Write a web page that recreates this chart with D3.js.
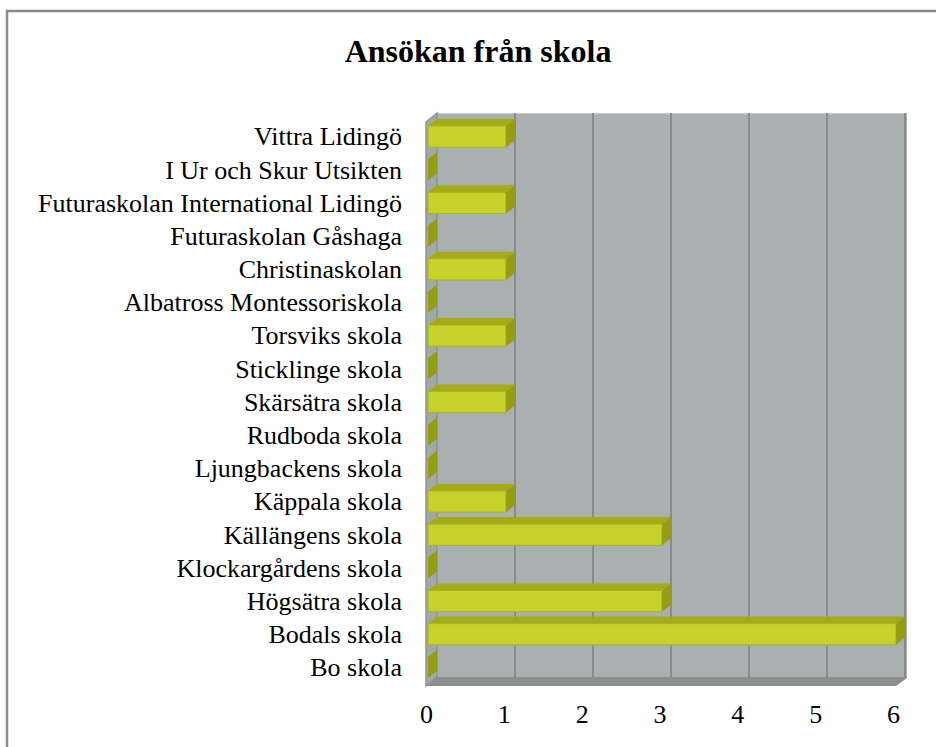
<!DOCTYPE html>
<html>
<head>
<meta charset="utf-8">
<script src="https://cdn.jsdelivr.net/npm/d3@7"></script>
<style>
  html, body { margin: 0; padding: 0; background: #fff; }
  svg { display: block; }
  text { font-family: "Liberation Serif", "Times New Roman", serif; fill: #000; }
</style>
</head>
<body>
<svg id="chart" width="936" height="747"></svg>
<script>
const schools = [
    "Vittra Lidingö",
    "I Ur och Skur Utsikten",
    "Futuraskolan International Lidingö",
    "Futuraskolan Gåshaga",
    "Christinaskolan",
    "Albatross Montessoriskola",
    "Torsviks skola",
    "Sticklinge skola",
    "Skärsätra skola",
    "Rudboda skola",
    "Ljungbackens skola",
    "Käppala skola",
    "Källängens skola",
    "Klockargårdens skola",
    "Högsätra skola",
    "Bodals skola",
    "Bo skola"
];
const applications = [1, 0, 1, 0, 1, 0, 1, 0, 1, 0, 0, 1, 3, 0, 3, 6, 0];
const xTicks = [0, 1, 2, 3, 4, 5, 6];

const svg = d3.select("#chart");

// outer frame (only left and top edges fall inside the picture)
svg.append("rect")
    .attr("x", 7).attr("y", 11)
    .attr("width", 1200).attr("height", 1200)
    .attr("fill", "none")
    .attr("stroke", "#8a8a8a")
    .attr("stroke-width", 2.5);

svg.append("text")
    .attr("x", 478).attr("y", 62)
    .attr("text-anchor", "middle")
    .attr("font-size", 32)
    .attr("font-weight", "bold")
    .text("Ansökan från skola");

// wall depth (front -> back) and bar depth
const wallDx = 11, wallDy = -9;
const barDx = 9, barDy = -7;

// scales on the back wall plane
const x = d3.scaleLinear().domain([0, 6]).range([437, 905]);
const y = d3.scaleBand().domain(schools).range([113, 677]).paddingInner(0.36).paddingOuter(0.18);

const wallTop = 113, wallBottom = 677;
const x0 = x(0), x6 = x(6);

// back wall
svg.append("rect")
    .attr("x", x0).attr("y", wallTop)
    .attr("width", x6 - x0 + 2).attr("height", wallBottom - wallTop)
    .attr("fill", "#aab0b0");

svg.append("line")
    .attr("x1", x0).attr("x2", x6 + 2)
    .attr("y1", wallTop + 0.5).attr("y2", wallTop + 0.5)
    .attr("stroke", "#c9cdcd");

// left side wall
svg.append("polygon")
    .attr("points", [
        [x0, wallTop], [x0 - wallDx, wallTop - wallDy],
        [x0 - wallDx, wallBottom - wallDy], [x0, wallBottom]
    ].join(" "))
    .attr("fill", "#a2a8a8")
    .attr("stroke", "#8f9494")
    .attr("stroke-width", 1.5);

// floor
svg.append("polygon")
    .attr("points", [
        [x0, wallBottom], [x6 + 2, wallBottom],
        [x6 + 2, wallBottom + 1], [x6 + 2 - wallDx, wallBottom - wallDy],
        [x0 - wallDx, wallBottom - wallDy]
    ].join(" "))
    .attr("fill", "#898e8e");

// gridlines on the back wall
svg.append("g")
    .selectAll("line")
    .data(xTicks.slice(1))
    .join("line")
    .attr("x1", d => x(d)).attr("x2", d => x(d))
    .attr("y1", wallTop).attr("y2", wallBottom)
    .attr("stroke", "#868b8b")
    .attr("stroke-width", 2);

// bars
const bars = svg.append("g")
    .selectAll("g")
    .data(schools.map((s, i) => ({ name: s, value: applications[i] })))
    .join("g");

const fx = v => x(v) - barDx;          // front-face x
const fy = d => y(d.name) - barDy;     // front-face top y
const bh = y.bandwidth();

bars.filter(d => d.value > 0).append("polygon")
    .attr("points", d => [
        [fx(0), fy(d)], [x(0), y(d.name)],
        [x(d.value), y(d.name)], [fx(d.value), fy(d)]
    ].join(" "))
    .attr("fill", "#a4ab18");

bars.filter(d => d.value > 0).append("rect")
    .attr("x", fx(0))
    .attr("y", d => fy(d))
    .attr("width", d => fx(d.value) - fx(0))
    .attr("height", bh)
    .attr("fill", "#c6d12a")
    .attr("stroke", "#aab222")
    .attr("stroke-width", 1);

bars.append("polygon")
    .attr("points", d => [
        [fx(d.value), fy(d)], [x(d.value), y(d.name)],
        [x(d.value), y(d.name) + bh], [fx(d.value), fy(d) + bh]
    ].join(" "))
    .attr("fill", "#959d12");

// category labels
svg.append("g")
    .selectAll("text")
    .data(schools)
    .join("text")
    .attr("x", 402)
    .attr("y", d => y(d) - barDy + bh / 2)
    .attr("dy", "0.34em")
    .attr("text-anchor", "end")
    .attr("font-size", 26)
    .text(d => d);

// value axis along the front edge
const xFront = d3.scaleLinear().domain([0, 6]).range([426, 893]);
const axis = svg.append("g")
    .attr("transform", "translate(0, 705)")
    .call(d3.axisBottom(xFront).tickValues(xTicks).tickSize(0).tickPadding(0).tickFormat(d3.format("d")));
axis.select(".domain").remove();
axis.selectAll("text")
    .attr("font-size", 26)
    .attr("fill", "#000");
</script>
</body>
</html>
